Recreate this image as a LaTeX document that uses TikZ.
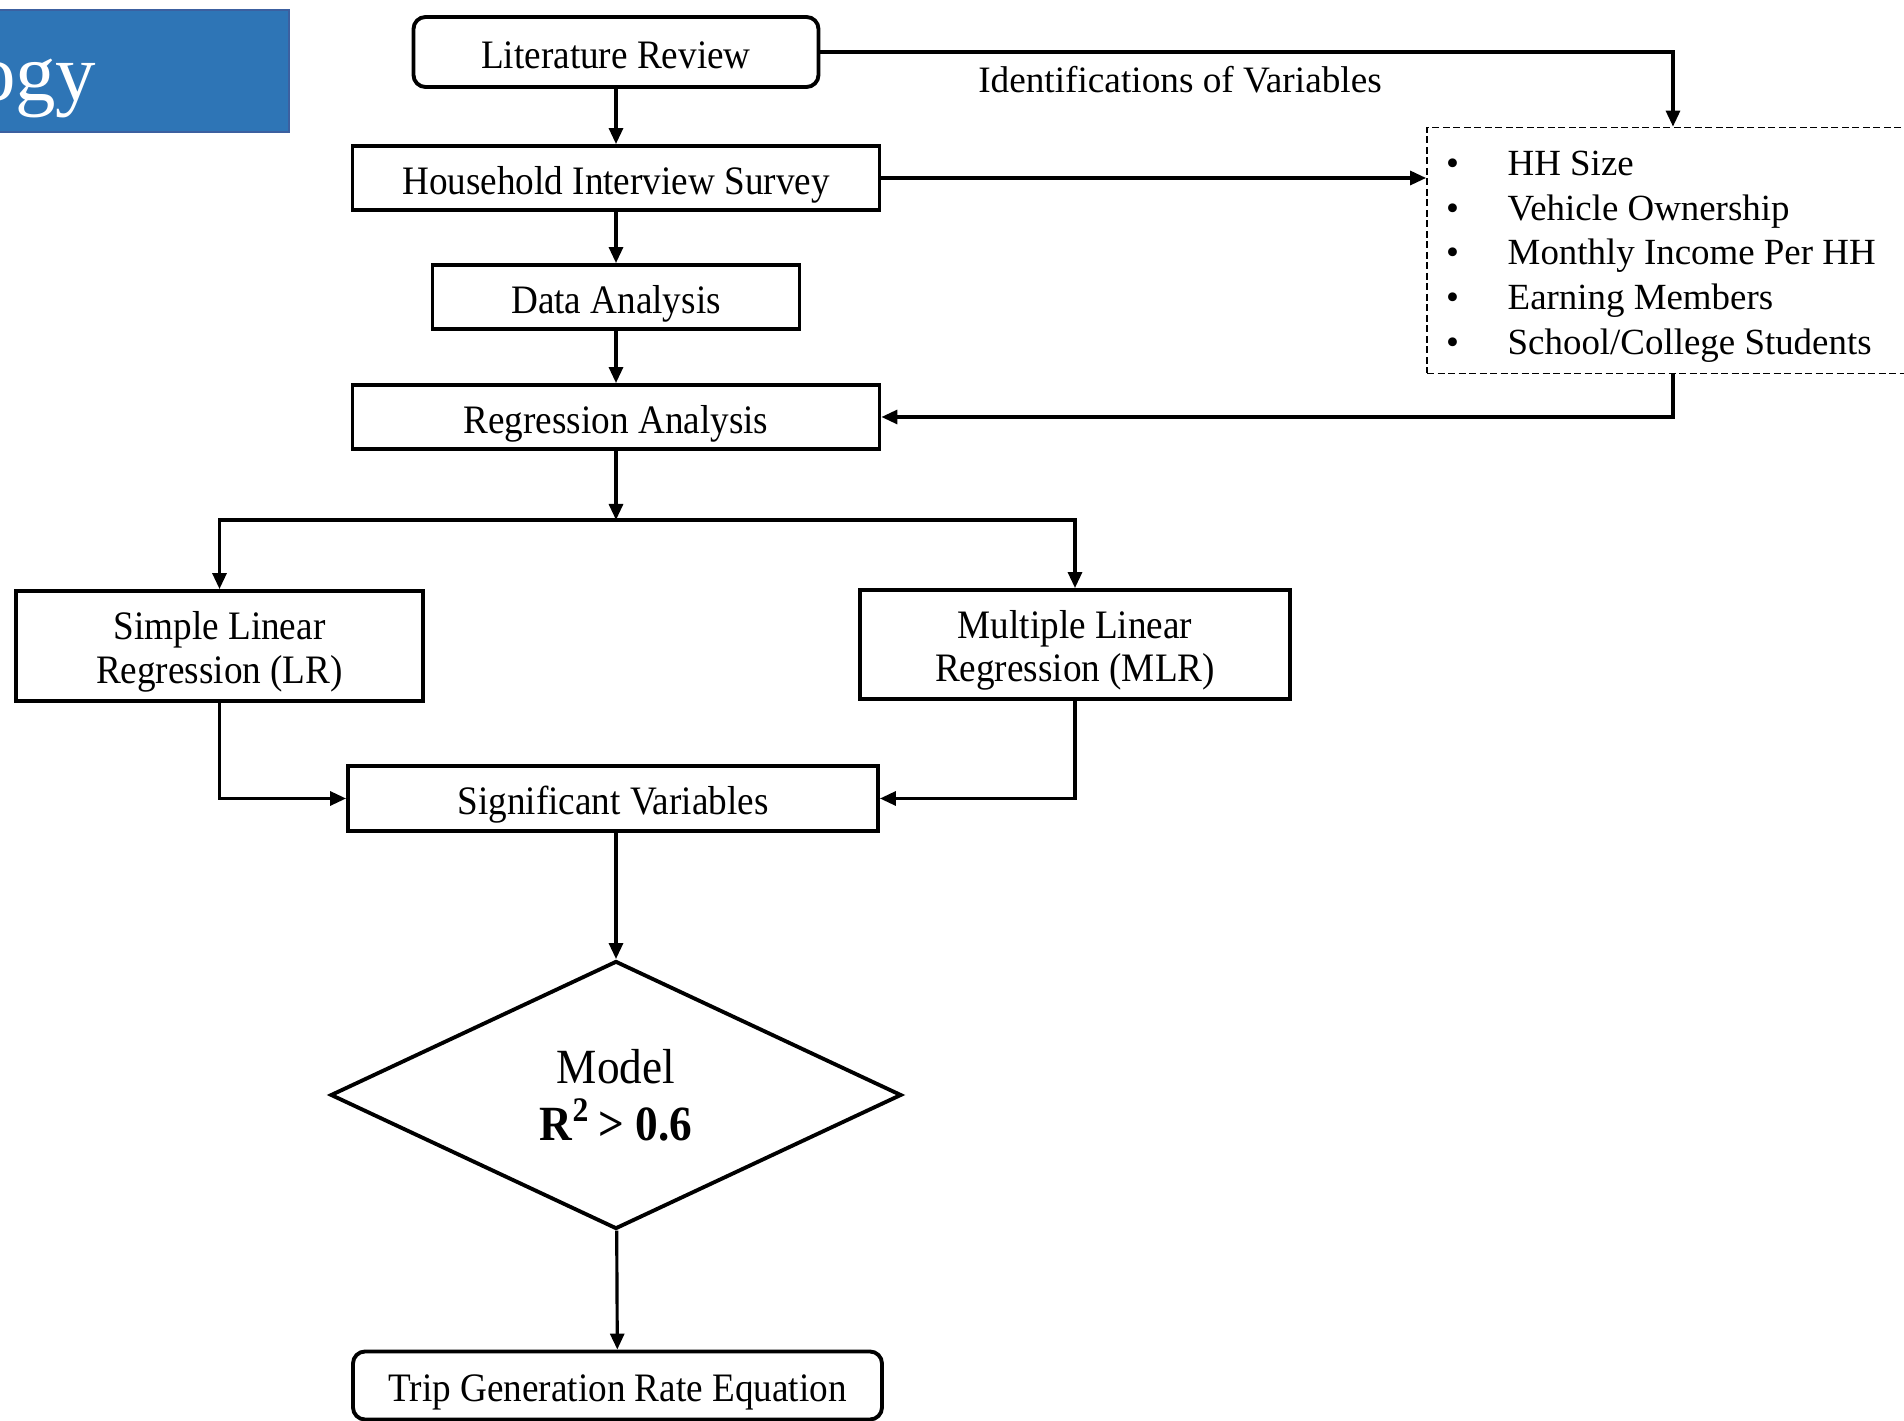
\documentclass[tikz,border=0pt]{standalone}
\usepackage{fontspec}
\setmainfont{Liberation Serif}
\newfontfamily\narrowserif[FakeStretch=0.92]{Liberation Serif}
\usepackage{xcolor}
\usepackage{tikz}
\usetikzlibrary{arrows.meta,shapes.geometric}
\definecolor{titleblue}{RGB}{46,117,182}
\definecolor{titleedge}{RGB}{60,96,160}

\begin{document}
\begin{tikzpicture}[
	box/.style={draw, line width=1.1pt, align=center, inner sep=1pt,
		font=\narrowserif\fontsize{11.5}{12.4}\selectfont,
		execute at begin node={\rule{0pt}{1.0em}}, text depth=0.22em},
	twoline/.style={draw, line width=1.1pt, inner sep=1pt,
		label={[align=center, font=\narrowserif\fontsize{11.5}{12.4}\selectfont, yshift=-0.06cm]center:#1}},
	roundbox/.style={box, rounded corners=1.2mm},
	arr/.style={line width=0.9pt, -{Triangle[length=1.6mm,width=1.4mm]}},
	item/.style={anchor=base west, inner sep=0, font=\fontsize{10.5}{12}\selectfont}
]
\useasboundingbox (0,0) rectangle (19.04,-14.21);
\draw[fill=titleblue, draw=titleedge, line width=0.6pt] (-0.2,-0.10) rectangle (2.89,-1.32);
\node[anchor=base east, inner sep=0, text=white, font=\fontsize{23}{26}\selectfont] (title) at (0.97,-1.01) {ogy};

\node[roundbox, minimum width=4.05cm, minimum height=0.70cm] (lit) at (6.16,-0.52) {Literature Review};
\node[box, minimum width=5.27cm, minimum height=0.64cm] (his) at (6.16,-1.78) {Household Interview Survey};
\node[box, minimum width=3.67cm, minimum height=0.64cm] (data) at (6.16,-2.97) {Data Analysis};
\node[box, minimum width=5.27cm, minimum height=0.64cm] (reg) at (6.16,-4.17) {Regression Analysis};
\coordinate (split) at (6.16,-5.20);
\node[twoline={Simple Linear\\Regression (LR)}, minimum width=4.07cm, minimum height=1.10cm] (slr) at (2.195,-6.46) {};
\node[twoline={Multiple Linear\\Regression (MLR)}, minimum width=4.30cm, minimum height=1.09cm] (mlr) at (10.75,-6.445) {};
\node[box, minimum width=5.30cm, minimum height=0.65cm] (sig) at (6.13,-7.985) {Significant Variables};
\node[draw, diamond, line width=1.1pt, inner sep=0, minimum width=5.71cm, minimum height=2.68cm, align=center,
	font=\narrowserif\fontsize{14}{16.2}\selectfont] (model) at (6.16,-10.95) {Model\\\textbf{R\textsuperscript{2}\,> 0.6}};
\node[roundbox, minimum width=5.29cm, minimum height=0.68cm] (trip) at (6.175,-13.855) {Trip Generation Rate Equation};

\node[draw, dash pattern=on 0.7mm off 0.35mm, line width=0.5pt, minimum width=4.92cm, minimum height=2.46cm] (vars) at (16.73,-2.505) {};
\foreach \txt [count=\i] in {HH Size, Vehicle Ownership, Monthly Income Per HH, Earning Members, School/College Students}{
	\node[item] (dot\i) at (14.455,{-1.755-0.447*(\i-1)}) {•};
	\node[item] (var\i) at (15.07,{-1.755-0.447*(\i-1)}) {\txt};
}
\node[font=\fontsize{10.6}{12}\selectfont] (ident) at (11.80,-0.80) {Identifications of Variables};

\draw[arr] (lit) -- (his);
\draw[arr] (his) -- (data);
\draw[arr] (data) -- (reg);
\draw[arr] (reg) -- (split);
\draw[line width=1.1pt] (slr.north |- split) -- (mlr.north |- split);
\draw[arr] (split) -| (slr);
\draw[arr] (split) -| (mlr);
\draw[arr] (slr) |- (sig);
\draw[arr] (mlr) |- (sig);
\draw[arr] (sig.south -| model.north) -- (model);
\draw[arr] (model) -- (trip);
\draw[arr] (lit) -| (vars);
\draw[arr] (his.east) -- (his.east -| vars.west);
\draw[arr] (vars) |- (reg);
\end{tikzpicture}
\end{document}
